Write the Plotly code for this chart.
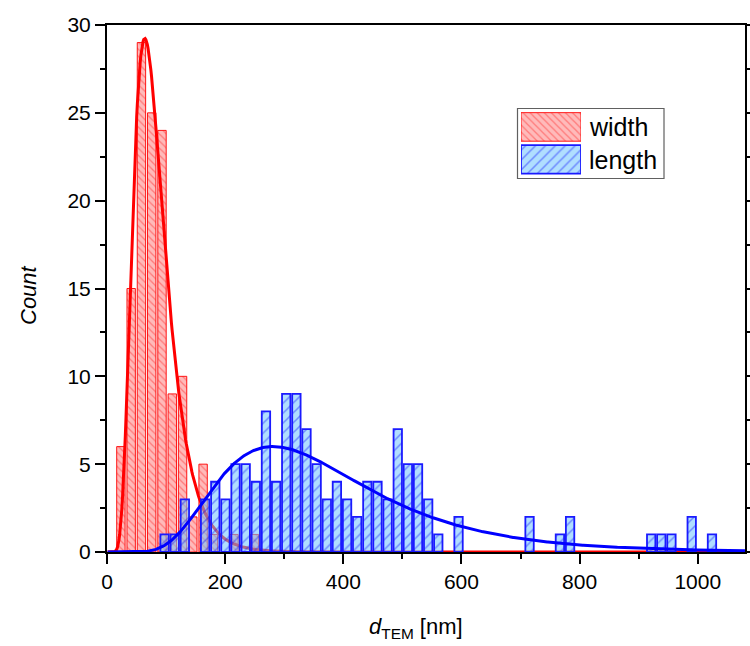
import numpy as np
import plotly.graph_objects as go

# ---------------- data ----------------
width_bin_centers = [23.5, 40.9, 58.3, 75.7, 93.1, 110.5, 127.9, 145.3, 162.7, 180.1, 214.9, 249.7]
width_counts = [6, 15, 29, 25, 24, 9, 10, 2, 5, 1, 1, 1]

length_bin_centers = [97.5, 114.7, 131.8, 166.1, 183.3, 200.5, 217.6, 234.8, 251.9, 269.1,
                      286.3, 303.4, 320.6, 337.7, 354.9, 372.1, 389.2, 406.4, 423.5, 440.7,
                      457.9, 475.0, 492.2, 509.3, 526.5, 543.7, 560.8, 595.1, 715.3, 766.7,
                      783.9, 921.2, 938.3, 955.5, 989.8, 1024.1]
length_counts = [1, 1, 3, 3, 4, 3, 5, 5, 4, 8,
                 4, 9, 9, 7, 5, 3, 4, 3, 2, 4,
                 4, 3, 7, 5, 5, 3, 1, 2, 2, 1,
                 2, 1, 1, 1, 2, 1]

# log-normal fit parameters (Origin form: A/(sqrt(2pi) w x) exp(-ln(x/xc)^2/(2w^2)))
width_fit = {"xc": 76.3, "w": 0.42, "A": 2150.0}
length_fit = {"xc": 344.0, "w": 0.45, "A": 2105.0}

x_tick_values = [0, 200, 400, 600, 800, 1000]
y_tick_values = [0, 5, 10, 15, 20, 25, 30]
legend_labels = ["width", "length"]
x_title = "<i>d</i><sub>TEM</sub> [nm]"
y_title = "<i>Count</i>"

# ---------------- geometry / style ----------------
W, H = 750, 646
L, R, T, B = 107, 5, 25, 94
PW, PH = W - L - R, H - T - B
X_RANGE = [0, 1080]
Y_RANGE = [0, 30]
BAR_W = 14.2
FONT = "Liberation Sans, Arial, sans-serif"


def px_x(p):
    return (p - L) / PW


def px_y(p):
    return (H - B - p) / PH


def lognormal(x, p):
    return p["A"] / (np.sqrt(2 * np.pi) * p["w"] * x) * np.exp(-(np.log(x / p["xc"]) ** 2) / (2 * p["w"] ** 2))


xs = np.linspace(1, X_RANGE[1], 900)

red_marker = dict(
    color="rgba(255,0,0,0.27)",
    line=dict(color="rgba(255,0,0,0.9)", width=1),
    pattern=dict(shape="\\", fgcolor="rgba(255,0,0,0.7)", bgcolor="rgba(255,0,0,0.27)",
                 size=5, solidity=0.25, fillmode="overlay"),
)
blue_marker = dict(
    color="rgba(110,195,255,0.55)",
    line=dict(color="#1a1aff", width=1.8),
    pattern=dict(shape="/", fgcolor="rgba(0,0,255,0.75)", bgcolor="rgba(110,195,255,0.55)",
                 size=7, solidity=0.22, fillmode="overlay"),
)

fig = go.Figure()

# width histogram + fit (bottom subplot layer)
fig.add_trace(go.Bar(x=width_bin_centers, y=width_counts, width=BAR_W, marker=red_marker,
                     name=legend_labels[0], showlegend=False, xaxis="x", yaxis="y"))
fig.add_trace(go.Scatter(x=xs, y=lognormal(xs, width_fit), mode="lines",
                         line=dict(color="#ff0000", width=3), showlegend=False,
                         xaxis="x", yaxis="y"))

# length histogram + fit (overlaid subplot drawn on top)
fig.add_trace(go.Bar(x=length_bin_centers, y=length_counts, width=BAR_W, marker=blue_marker,
                     name=legend_labels[1], showlegend=False, xaxis="x3", yaxis="y3"))
fig.add_trace(go.Scatter(x=xs, y=lognormal(xs, length_fit), mode="lines",
                         line=dict(color="#0000ff", width=3), showlegend=False,
                         xaxis="x3", yaxis="y3"))

# legend swatches drawn as bars in a small dedicated subplot
fig.add_trace(go.Bar(y=[1], x=[1], base=0, width=0.88, orientation="h", marker=red_marker,
                     showlegend=False, xaxis="x2", yaxis="y2", hoverinfo="skip"))
fig.add_trace(go.Bar(y=[0], x=[1], base=0, width=0.88, orientation="h", marker=blue_marker,
                     showlegend=False, xaxis="x2", yaxis="y2", hoverinfo="skip"))

axis_common = dict(
    showline=True, linecolor="black", linewidth=2, ticks="outside", ticklen=10,
    tickwidth=2, tickcolor="black", showgrid=False, zeroline=False,
    tickfont=dict(family=FONT, size=21, color="black"), layer="below traces",
    automargin=False,
)

fig.update_layout(
    width=W, height=H, autosize=False,
    margin=dict(l=L, r=R, t=T, b=B, pad=0, autoexpand=False),
    paper_bgcolor="white", plot_bgcolor="white",
    barmode="overlay", showlegend=False,
    xaxis=dict(range=X_RANGE, tickvals=x_tick_values, mirror=True,
               minor=dict(dtick=100, tick0=0, ticklen=5, tickwidth=2, ticks="outside", tickcolor="black"),
               **axis_common),
    yaxis=dict(range=Y_RANGE, tickvals=y_tick_values, mirror="allticks",
               minor=dict(dtick=2.5, tick0=0, ticklen=5, tickwidth=2, ticks="outside", tickcolor="black"),
               **axis_common),
    xaxis3=dict(range=X_RANGE, overlaying="x", visible=False),
    yaxis3=dict(range=Y_RANGE, overlaying="y", visible=False),
    xaxis2=dict(domain=[px_x(521), px_x(581)], range=[0, 1], visible=False, anchor="y2", fixedrange=True),
    yaxis2=dict(domain=[px_y(175.6), px_y(110.7)], range=[-0.5, 1.5], visible=False, anchor="x2", fixedrange=True),
)

# legend frame
fig.add_shape(type="rect", xref="paper", yref="paper",
              x0=px_x(517.5), x1=px_x(664), y0=px_y(178.5), y1=px_y(108.5),
              line=dict(color="#606060", width=1.2), fillcolor="rgba(0,0,0,0)", layer="below")

for label, ypx in zip(legend_labels, [126.5, 160.0]):
    fig.add_annotation(text=label, xref="paper", yref="paper", x=px_x(587), y=px_y(ypx),
                       xanchor="left", yanchor="middle", showarrow=False,
                       font=dict(family=FONT, size=25, color="black"))

# axis titles
fig.add_annotation(text=x_title, xref="paper", yref="paper", x=px_x(416), y=px_y(628),
                   xanchor="center", yanchor="middle", showarrow=False,
                   font=dict(family=FONT, size=22, color="black"))
fig.add_annotation(text=y_title, xref="paper", yref="paper", x=px_x(28), y=px_y(295),
                   xanchor="center", yanchor="middle", textangle=-90, showarrow=False,
                   font=dict(family=FONT, size=22, color="black"))

fig.write_html("out.html", config={"responsive": False}, default_width="750px", default_height="646px")
